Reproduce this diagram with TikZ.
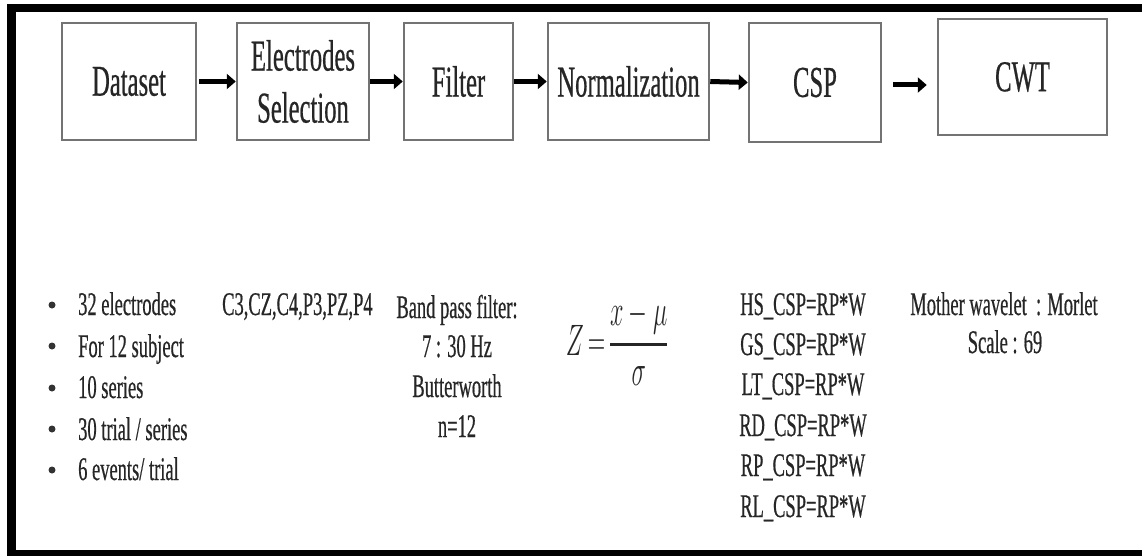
\RequirePackage{fix-cm}
\documentclass[tikz,border=0pt]{standalone}
\usepackage{fontspec}
\usepackage{graphicx}
\usepackage{amsmath}
\usepackage{tikz}
\usetikzlibrary{arrows.meta}
\newfontfamily\narrowfont{Liberation Serif}[FakeStretch=0.56, FakeBold=0.5]

\begin{document}
\begin{tikzpicture}[x=1pt, y=-1pt,
  stage/.style={draw=black!55, line width=2.5pt, inner sep=0pt, align=center, text=black!85,
    font=\narrowfont\fontsize{44}{52}\selectfont},
  note/.style={inner sep=0pt, text=black!85, font=\narrowfont\fontsize{33}{40}\selectfont},
  dot/.style={circle, fill=black!80, inner sep=0pt, minimum size=7pt},
  flow/.style={-{Triangle[length=9pt,width=15pt]}, line width=5pt}]
\useasboundingbox (0,0) rectangle (1142,556);
% frame
\fill (7,4) rectangle (1142,12);
\fill (7,4) rectangle (16,556);
\fill (7,550) rectangle (1142,556);

% stages
\node [stage, minimum width=134pt, minimum height=117pt] (data) at (129,81.5) {Dataset};
\node [stage, minimum width=132pt, minimum height=117pt] (elec) at (303,81.5) {Electrodes\\Selection};
\node [stage, minimum width=109pt, minimum height=117pt] (filt) at (458.5,81.5) {Filter};
\node [stage, minimum width=161pt, minimum height=117pt] (norm) at (628.5,81.5) {Normalization};
\node [stage, minimum width=132pt, minimum height=119pt] (csp) at (815,82.5) {CSP};
\node [stage, minimum width=169pt, minimum height=116pt] (cwt) at (1022.5,77) {CWT};

\draw [flow, shorten <=2pt] (data.east) -- (elec.west);
\draw [flow] (elec.east) -- (filt.west);
\draw [flow] (filt.east) -- (norm.west);
\draw [flow] (norm.east) -- (csp.west);
\draw [flow, shorten <=11pt, shorten >=10pt] ([yshift=-2.5pt]csp.east) -- ([yshift=-2.5pt]csp.east -| cwt.west);

% dataset
\node [dot] (b1) at (52,305) {};
\node [dot] (b2) at (52,346) {};
\node [dot] (b3) at (52,388) {};
\node [dot] (b4) at (52,429) {};
\node [dot] (b5) at (52,470) {};
\node [note, anchor=base west] (l1) at (78,315) {32 electrodes};
\node [note, anchor=base west] (l2) at (78,357) {For 12 subject};
\node [note, anchor=base west] (l3) at (78,398) {10 series};
\node [note, anchor=base west] (l4) at (78,440) {30 trial / series};
\node [note, anchor=base west] (l5) at (78,480) {6 events/ trial};

% electrodes
\node [note, anchor=base west] (ch) at (222,315) {C3,CZ,C4,P3,PZ,P4};

% filter
\node [note, anchor=base] (f1) at (457,318) {Band pass filter:};
\node [note, anchor=base] (f2) at (457,357) {7 : 30 Hz};
\node [note, anchor=base] (f3) at (457,397) {Butterworth};
\node [note, anchor=base] (f4) at (457,437) {n=12};

% normalization
\node [inner sep=0pt, text=black!85] (zform) at (617,343)
  {\scalebox{0.55}[1]{\fontsize{44}{50}\selectfont$\displaystyle Z\mkern-2mu=\mkern-2mu\genfrac{}{}{2.5pt}{0}{x-\mu}{\sigma}$}};

% csp
\node [note, anchor=base] (c1) at (803,315) {HS\_CSP=RP*W};
\node [note, anchor=base] (c2) at (803,355) {GS\_CSP=RP*W};
\node [note, anchor=base] (c3) at (803,395) {LT\_CSP=RP*W};
\node [note, anchor=base] (c4) at (803,436) {RD\_CSP=RP*W};
\node [note, anchor=base] (c5) at (803,476) {RP\_CSP=RP*W};
\node [note, anchor=base] (c6) at (803,517) {RL\_CSP=RP*W};

% cwt
\node [note, anchor=base] (w1) at (1004,315) {Mother wavelet~ : Morlet};
\node [note, anchor=base] (w2) at (1005,353) {Scale : 69};
\end{tikzpicture}
\end{document}
